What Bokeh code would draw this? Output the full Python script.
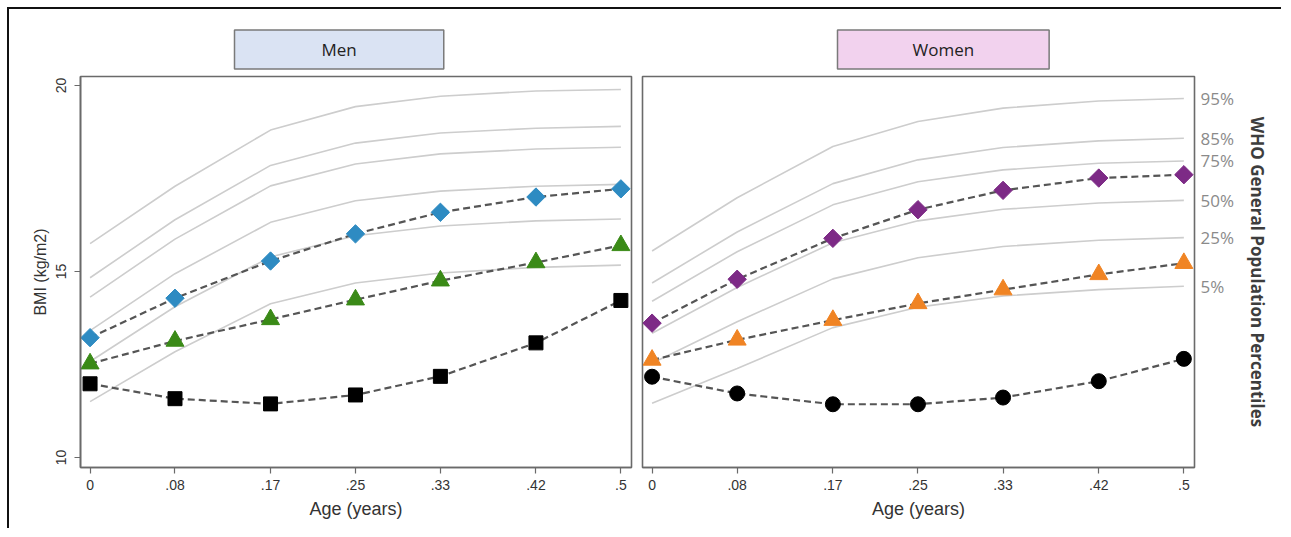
import numpy as np
from bokeh.plotting import figure
from bokeh.models import Range1d, FixedTicker, LinearAxis, Title
from bokeh.layouts import row
from bokeh.embed import file_html
from bokeh.resources import INLINE

# ---------------- data ----------------
age = [0.0, 0.08, 0.17, 0.25, 0.33, 0.42, 0.5]
age_labels = ["0", ".08", ".17", ".25", ".33", ".42", ".5"]
bmi_ticks = [10, 15, 20]
pct_labels = ["95%", "85%", "75%", "50%", "25%", "5%"]

# WHO reference percentile curves, boys (left panel)
men_p95 = [15.75, 17.29, 18.80, 19.43, 19.71, 19.85, 19.89]
men_p85 = [14.83, 16.39, 17.85, 18.45, 18.72, 18.85, 18.90]
men_p75 = [14.31, 15.87, 17.30, 17.89, 18.16, 18.29, 18.34]
men_p50 = [13.41, 14.94, 16.32, 16.90, 17.16, 17.29, 17.34]
men_p25 = [12.58, 14.05, 15.39, 15.96, 16.22, 16.36, 16.41]
men_p05 = [11.50, 12.84, 14.13, 14.69, 14.96, 15.11, 15.17]

# WHO reference percentile curves, girls (right panel)
women_p95 = [15.55, 16.98, 18.36, 19.03, 19.39, 19.58, 19.65]
women_p85 = [14.69, 16.06, 17.36, 18.00, 18.33, 18.51, 18.58]
women_p75 = [14.20, 15.53, 16.79, 17.41, 17.73, 17.91, 17.97]
women_p50 = [13.34, 14.57, 15.77, 16.36, 16.67, 16.84, 16.91]
women_p25 = [12.53, 13.65, 14.80, 15.37, 15.67, 15.84, 15.91]
women_p05 = [11.46, 12.39, 13.49, 14.04, 14.34, 14.51, 14.60]

# study series, men
men_diamond = [13.22, 14.28, 15.28, 16.01, 16.59, 17.00, 17.22]
men_triangle = [12.52, 13.13, 13.71, 14.24, 14.75, 15.24, 15.70]
men_square = [11.98, 11.58, 11.44, 11.68, 12.18, 13.08, 14.22]

# study series, women
women_diamond = [13.61, 14.79, 15.89, 16.66, 17.18, 17.51, 17.60]
women_triangle = [12.62, 13.16, 13.69, 14.14, 14.51, 14.92, 15.22]
women_circle = [12.17, 11.72, 11.43, 11.43, 11.61, 12.05, 12.65]

# ---------------- style ----------------
SANS = "Liberation Sans"
UI = "Open Sans"
FRAME = "#6a6a6a"
CURVE = "#cdcdcd"
DASH = "#555555"


def make_panel(width, mbl, mbr, show_y):
    p = figure(width=width, height=519,
               x_range=Range1d(-0.009, 0.51), y_range=Range1d(9.73, 20.24),
               output_backend="svg", toolbar_location=None,
               min_border_left=mbl, min_border_right=mbr,
               min_border_top=67, min_border_bottom=61)
    p.grid.visible = False
    p.outline_line_color = FRAME
    p.outline_line_width = 1.6
    p.background_fill_color = "white"
    p.border_fill_color = "white"

    xa = p.xaxis[0]
    xa.ticker = FixedTicker(ticks=age)
    xa.major_label_overrides = {a: l for a, l in zip(age, age_labels)}
    xa.axis_line_color = FRAME
    xa.axis_line_width = 1.6
    xa.major_tick_line_color = FRAME
    xa.major_tick_line_width = 1.2
    xa.major_tick_out = 6
    xa.major_tick_in = 0
    xa.minor_tick_line_color = None
    xa.major_label_text_font = SANS
    xa.major_label_text_font_size = "14px"
    xa.major_label_text_color = "#333333"
    xa.major_label_standoff = 6
    xa.axis_label = "Age (years)"
    xa.axis_label_text_font = SANS
    xa.axis_label_text_font_size = "18px"
    xa.axis_label_text_font_style = "normal"
    xa.axis_label_text_color = "#333333"
    xa.axis_label_standoff = 6

    ya = p.yaxis[0]
    if show_y:
        ya.ticker = FixedTicker(ticks=bmi_ticks)
        ya.axis_line_color = FRAME
        ya.axis_line_width = 1.6
        ya.major_tick_line_color = FRAME
        ya.major_tick_line_width = 1.2
        ya.major_tick_out = 6
        ya.major_tick_in = 0
        ya.minor_tick_line_color = None
        ya.major_label_orientation = "vertical"
        ya.major_label_text_font = SANS
        ya.major_label_text_font_size = "14px"
        ya.major_label_text_color = "#333333"
        ya.major_label_standoff = 8
        ya.axis_label = "BMI (kg/m2)"
        ya.axis_label_text_font = SANS
        ya.axis_label_text_font_size = "16px"
        ya.axis_label_text_font_style = "normal"
        ya.axis_label_text_color = "#333333"
        ya.axis_label_standoff = 5
    else:
        ya.visible = False
    return p


def draw(p, curves, series):
    for c in curves:
        p.line(age, c, line_color=CURVE, line_width=1.6)
    for vals, marker, color, size, angle in series:
        p.line(age, vals, line_color=DASH, line_width=2.2, line_dash="7 4")
    for vals, marker, color, size, angle in series:
        p.scatter(age, vals, marker=marker, size=size, angle=angle,
                  fill_color=color, line_color=color)


def header(p, text, offset, fill, hpad):
    p.add_layout(Title(text=text, align="left", offset=offset, standoff=15,
                       text_font=UI, text_font_size="17px", text_font_style="normal",
                       text_color="#222222",
                       background_fill_color=fill, border_line_color="#7a7a7a",
                       border_line_width=1.5,
                       padding=dict(left=hpad, right=hpad, top=8, bottom=8)), "above")


# ---------------- left panel (men) ----------------
p1 = make_panel(627, 71, 5, True)
draw(p1, [men_p95, men_p85, men_p75, men_p50, men_p25, men_p05],
     [(men_diamond, "square", "#2e8bc2", 13, np.pi / 4),
      (men_triangle, "triangle", "#3a8a17", 18, 0.0),
      (men_square, "square", "#000000", 14, 0.0)])
header(p1, "Men", 154, "#dae3f3", 87)

# ---------------- right panel (women) ----------------
p2 = make_panel(645, 6, 87, False)
draw(p2, [women_p95, women_p85, women_p75, women_p50, women_p25, women_p05],
     [(women_diamond, "square", "#7d2a86", 13, np.pi / 4),
      (women_triangle, "triangle", "#f08424", 18, 0.0),
      (women_circle, "circle", "#000000", 15, 0.0)])
header(p2, "Women", 195, "#f2d2ee", 75)

ends = [women_p95[-1], women_p85[-1], women_p75[-1], women_p50[-1], women_p25[-1], women_p05[-1]]
ra = LinearAxis(ticker=FixedTicker(ticks=ends),
                major_label_overrides={e: l for e, l in zip(ends, pct_labels)},
                axis_line_color=None, major_tick_line_color=None, minor_tick_line_color=None,
                major_tick_out=0, major_tick_in=0, major_label_standoff=6,
                major_label_text_font=UI, major_label_text_font_size="17px",
                major_label_text_color="#8a8a8a",
                axis_label="WHO General Population Percentiles",
                axis_label_text_font=UI, axis_label_text_font_size="17px",
                axis_label_text_font_style="bold", axis_label_text_color="#3d3d3d",
                axis_label_standoff=9)
p2.add_layout(ra, "right")

layout = row(p1, p2, styles={"border-top": "2px solid #111111",
                             "border-left": "2px solid #111111",
                             "margin-top": "7px", "margin-left": "7px"})

open("out.html", "w").write(file_html(layout, INLINE))
